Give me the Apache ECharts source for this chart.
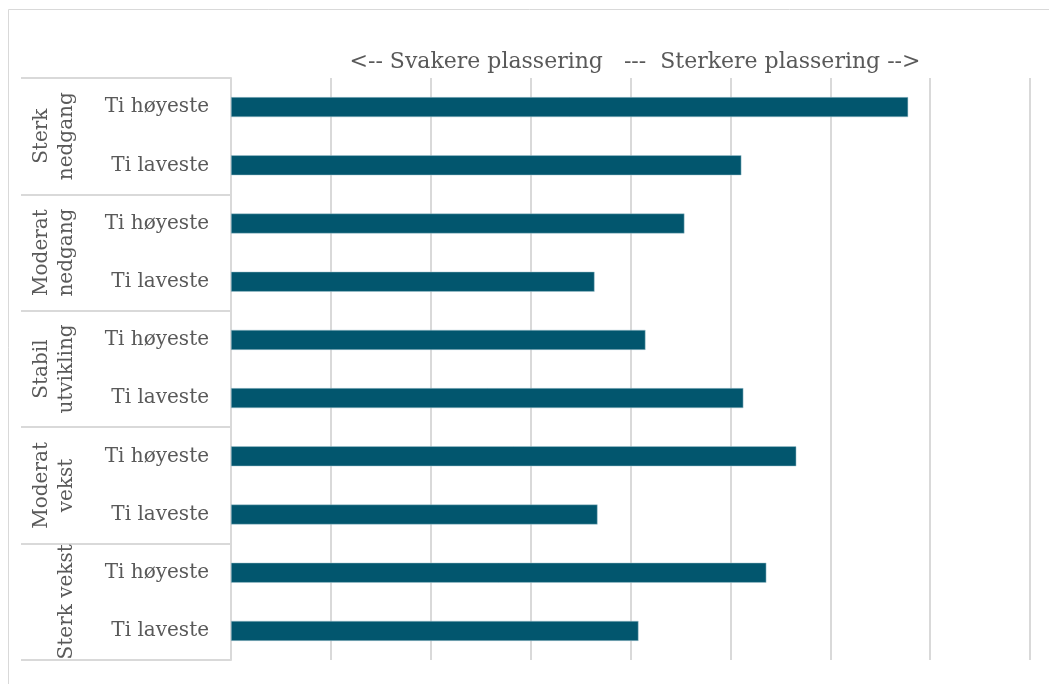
<!DOCTYPE html>
<html>
<head>
<meta charset="utf-8">
<script src="https://cdn.jsdelivr.net/npm/echarts@6/dist/echarts.min.js"></script>
<style>
  html, body { margin: 0; padding: 0; background: #fff; }
  #chart { width: 1049px; height: 684px; }
</style>
</head>
<body>
<div id="chart"></div>
<script>
// kategorier (indre og ytre)
var kategorier = ['Ti høyeste', 'Ti laveste', 'Ti høyeste', 'Ti laveste', 'Ti høyeste', 'Ti laveste',
                  'Ti høyeste', 'Ti laveste', 'Ti høyeste', 'Ti laveste'];
var grupper = ['Sterk\nnedgang', 'Moderat\nnedgang', 'Stabil\nutvikling', 'Moderat\nvekst', 'Sterk vekst'];
var verdier = [6.78, 5.11, 4.54, 3.64, 4.15, 5.13, 5.66, 3.67, 5.36, 4.08];
var tittel = '<-- Svakere plassering   ---  Sterkere plassering -->';

var font = 'DejaVu Serif';
var chart = echarts.init(document.getElementById('chart'));

chart.setOption({
    backgroundColor: '#fff',
    animation: false,
    title: {
        text: tittel,
        left: 630,
        textAlign: 'center',
        top: 46,
        textStyle: { fontFamily: font, fontSize: 22, fontWeight: 'normal', color: '#595959' }
    },
    graphic: [{
        type: 'rect',
        shape: { x: 8.5, y: 9.5, width: 1100, height: 700 },
        style: { fill: 'none', stroke: '#d9d9d9', lineWidth: 1 },
        silent: true
    }],
    grid: { left: 231, right: 19, top: 78, bottom: 24 },
    xAxis: {
        type: 'value',
        min: 0,
        max: 8,
        interval: 1,
        axisLabel: { show: false },
        axisLine: { show: false },
        axisTick: { show: false },
        splitLine: { lineStyle: { color: '#d9d9d9', width: 2 } }
    },
    yAxis: [{
        type: 'category',
        data: kategorier,
        inverse: true,
        position: 'left',
        axisLine: { show: false },
        axisTick: { show: false },
        axisLabel: { interval: 0, margin: 22, fontFamily: font, fontSize: 20, color: '#595959' }
    }, {
        type: 'category',
        data: grupper,
        inverse: true,
        position: 'left',
        axisLine: { show: true, lineStyle: { color: '#d9d9d9', width: 2 } },
        axisTick: { show: true, interval: 0, length: 210, lineStyle: { color: '#d9d9d9', width: 2 } },
        axisLabel: {
            interval: 0, rotate: 90, margin: 152, hideOverlap: false,
            fontFamily: font, fontSize: 20, color: '#595959', lineHeight: 25
        }
    }],
    series: [{
        type: 'bar',
        yAxisIndex: 0,
        data: verdier,
        barWidth: 20,
        itemStyle: { color: '#02566e', borderColor: '#a9c9d3', borderWidth: 0.5 }
    }]
});
</script>
</body>
</html>
